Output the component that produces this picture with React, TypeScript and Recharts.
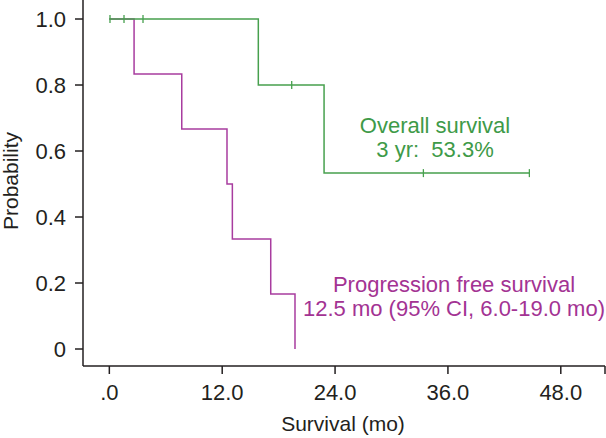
import React from 'react';
import { ComposedChart, Line, Scatter, XAxis, YAxis } from 'recharts';

// Kaplan-Meier step points (time in months, survival probability)
const osTimes = [0, 15.84, 22.83, 44.66];
const osProb = [1.0, 0.8, 0.533, 0.533];
const osCensorTimes = [0.07, 1.56, 3.58, 19.39, 33.39, 44.66];
const osCensorProb = [1.0, 1.0, 1.0, 0.8, 0.533, 0.533];

const pfsTimes = [0, 2.63, 7.7, 12.51, 13.08, 17.16, 19.74];
const pfsProb = [1.0, 0.833, 0.667, 0.5, 0.333, 0.167, 0];

const xTicks = [0, 12, 24, 36, 48, 52.7];
const yTicks = [0, 0.2, 0.4, 0.6, 0.8, 1.0];

const osData = osTimes.map((t, i) => ({ t, s: osProb[i] }));
const osCensor = osCensorTimes.map((t, i) => ({ t, s: osCensorProb[i] }));
const pfsData = pfsTimes.map((t, i) => ({ t, s: pfsProb[i] }));

const GREEN = '#47a04e';
const GREEN_TEXT = '#3e9a48';
const MAGENTA = '#a83c9f';
const MAGENTA_TEXT = '#a33393';
const DARK = '#231f20';
const FONT = '"Liberation Sans", Arial, Helvetica, sans-serif';

const CensorMark = (props: any) => {
  const { cx, cy } = props;
  if (cx == null || cy == null) return null;
  return <line x1={cx} x2={cx} y1={cy - 4} y2={cy + 4} stroke={GREEN} strokeWidth={1.3} />;
};

const fmtX = (v: number) => (v === 0 ? '.0' : v > 50 ? '' : v.toFixed(1));
const fmtY = (v: number) => (v === 0 ? '0' : v.toFixed(1));

export default function App() {
  const W = 606;
  const H = 438;
  return (
    <div style={{ position: 'absolute', left: 0, top: 0, width: W, height: H, background: '#fff' }}>
      <ComposedChart width={W} height={H} margin={{ top: 0, right: 1, bottom: 0, left: 0 }}>
        <XAxis
          type="number"
          dataKey="t"
          domain={[-2.8, 52.7]}
          allowDataOverflow
          ticks={xTicks}
          tickFormatter={fmtX}
          height={72}
          tickSize={8}
          tickMargin={10}
          axisLine={{ stroke: DARK, strokeWidth: 1.5 }}
          tickLine={{ stroke: DARK, strokeWidth: 1.5 }}
          tick={{ fill: DARK, fontSize: 22, fontFamily: FONT }}
          interval={0}
        />
        <YAxis
          type="number"
          dataKey="s"
          domain={[-0.0515, 1.0576]}
          allowDataOverflow
          ticks={yTicks}
          tickFormatter={fmtY}
          width={83}
          tickSize={8}
          tickMargin={9}
          axisLine={{ stroke: DARK, strokeWidth: 1.5 }}
          tickLine={{ stroke: DARK, strokeWidth: 1.5 }}
          tick={{ fill: DARK, fontSize: 22, fontFamily: FONT }}
          interval={0}
        />
        <Line
          data={pfsData}
          dataKey="s"
          type="stepAfter"
          stroke={MAGENTA}
          strokeWidth={1.5}
          dot={false}
          activeDot={false}
          isAnimationActive={false}
        />
        <Line
          data={osData}
          dataKey="s"
          type="stepAfter"
          stroke={GREEN}
          strokeWidth={1.5}
          dot={false}
          activeDot={false}
          isAnimationActive={false}
        />
        <Scatter data={osCensor} dataKey="s" shape={<CensorMark />} isAnimationActive={false} />
      </ComposedChart>
      <svg
        width={W}
        height={H}
        style={{ position: 'absolute', left: 0, top: 0, pointerEvents: 'none' }}
      >
        <g fontFamily={FONT} fontSize={22} textAnchor="middle">
          <text x={435} y={133} fill={GREEN_TEXT}>Overall survival</text>
          <text x={435} y={157} fill={GREEN_TEXT} style={{ whiteSpace: 'pre' }}>3 yr:  53.3%</text>
          <text x={454} y={292} fill={MAGENTA_TEXT}>Progression free survival</text>
          <text x={454} y={316} fill={MAGENTA_TEXT}>12.5 mo (95% CI, 6.0-19.0 mo)</text>
        </g>
        <g fontFamily={FONT} fontSize={21} textAnchor="middle" fill={DARK}>
          <text x={343} y={431}>Survival (mo)</text>
          <text x={18} y={181} transform="rotate(-90, 18, 181)">Probability</text>
        </g>
      </svg>
    </div>
  );
}
